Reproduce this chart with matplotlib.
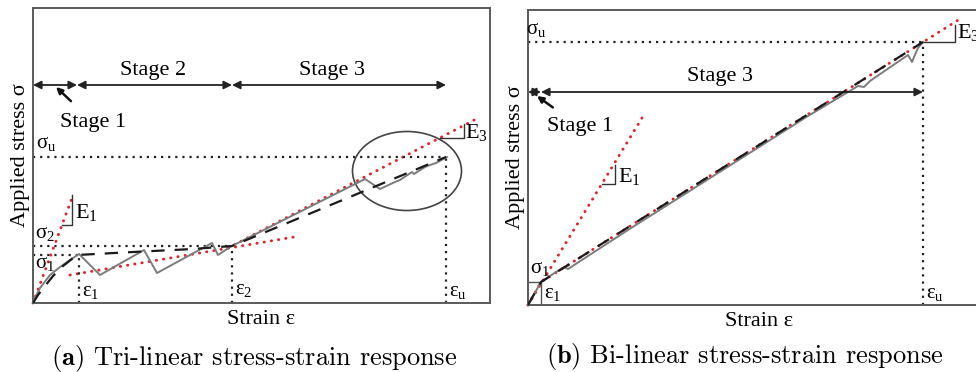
import matplotlib
matplotlib.use("Agg")
import matplotlib.pyplot as plt
from matplotlib.patches import Ellipse

plt.rcParams['font.family'] = ['Liberation Serif', 'DejaVu Serif']
plt.rcParams['mathtext.fontset'] = 'custom'
plt.rcParams['mathtext.rm'] = 'Liberation Serif'
plt.rcParams['mathtext.it'] = 'Liberation Serif:italic'
plt.rcParams['mathtext.bf'] = 'Liberation Serif:bold'

# ---------------- Panel (a): tri-linear (arbitrary strain / stress units) -------------
a_test_strain = [0, 2, 7, 17, 27, 37, 46, 67, 111, 124, 179, 185, 197, 332, 347,
                 362, 367, 379, 381, 392, 397, 403, 414]
a_test_stress = [0, 5, 15, 28, 36, 43, 49, 28, 53, 30, 60, 48, 56, 124, 114,
                 121, 123, 131, 129, 136, 138, 140, 146]
a_model_strain = [0, 5, 12, 20, 30, 44, 100, 160, 199, 413]
a_model_stress = [0, 8, 17, 27, 37, 48, 51, 54, 57, 146]
a_E1_strain = [0, 39]
a_E1_stress = [0, 105]
a_E2_strain = [37, 267]
a_E2_stress = [28, 67]
a_E3_strain = [195, 447]
a_E3_stress = [55, 186]
a_eps = {'1': 46, '2': 199, 'u': 413}
a_sig = {'1': 48, '2': 57, 'u': 146}
a_stage_bounds = [0, 44, 199, 413]
a_stage_level = 218
a_stage_names = ['Stage 2', 'Stage 3']

# ---------------- Panel (b): bi-linear ----------------
b_test_strain = [0, 13, 28, 36, 40, 100, 160, 220, 280, 330, 336, 342, 380, 384, 386, 390, 395]
b_test_stress = [0, 23, 33, 38, 36, 75, 113, 151, 189, 219, 218, 224, 250, 243, 248, 257, 263]
b_model_strain = [0, 13, 395]
b_model_stress = [0, 23, 263]
b_E1_strain = [0, 114]
b_E1_stress = [0, 187]
b_E3_strain = [0, 13, 435]
b_E3_stress = [0, 23, 288]
b_eps = {'1': 13, 'u': 395}
b_sig = {'1': 23, 'u': 263}
b_stage_bounds = [0, 13, 395]
b_stage_level = 213

W, H = 976, 372
fig = plt.figure(figsize=(W / 100, H / 100), dpi=100)

def add_ax(x0, y_top, w, h):
    ax = fig.add_axes([x0 / W, (H - y_top - h) / H, w / W, h / H])
    ax.set_xlim(0, w)
    ax.set_ylim(0, h)
    ax.set_xticks([])
    ax.set_yticks([])
    for s in ax.spines.values():
        s.set_color('#5a5a5a')
        s.set_linewidth(1.4)
    return ax

axA = add_ax(33, 8, 457, 295)
axB = add_ax(528, 10, 462, 295)

GRAY = '#7c7c7c'
RED = '#e0242a'
FS = 16
FSL = 15

def dotted(ax, xs, ys):
    ax.plot(xs, ys, color='#222222', lw=1.6, ls=(0, (1, 2.2)), clip_on=False)

def red(ax, xs, ys):
    ax.plot(xs, ys, color=RED, lw=2.1, ls=(0, (0.1, 2.4)), dash_capstyle='round', clip_on=False)

def slope_tri(ax, x0, y0, x1, y1):
    ax.plot([x0, x1, x1], [y0, y0, y1], color='#333333', lw=1.0, clip_on=False)

def arrow(ax, x0, x1, y, style):
    ax.annotate('', xy=(x1, y), xytext=(x0, y),
                arrowprops=dict(arrowstyle=style, color='#222222', lw=1.3,
                                shrinkA=0, shrinkB=0, mutation_scale=12))

# ---- Panel a drawing ----
ax = axA
ax.plot(a_test_strain, a_test_stress, color=GRAY, lw=1.4, zorder=3)
ax.plot(a_model_strain, a_model_stress, color='#1a1a1a', lw=1.6, ls=(0, (6, 4.5)), zorder=4)
red(ax, a_E1_strain, a_E1_stress)
red(ax, a_E2_strain, a_E2_stress)
red(ax, a_E3_strain, a_E3_stress)
for k in ['1', '2', 'u']:
    dotted(ax, [0, a_eps[k]], [a_sig[k], a_sig[k]])
    dotted(ax, [a_eps[k], a_eps[k]], [0, a_sig[k]])
slope_tri(ax, 29, 78, 39, 108)
slope_tri(ax, 407, 165, 431, 179)
ax.add_patch(Ellipse((374, 132), 109, 79, fill=False, ec='#444444', lw=1.2))
for i in range(3):
    arrow(ax, a_stage_bounds[i], a_stage_bounds[i + 1], a_stage_level, '<|-|>')
ax.text(120, 232, a_stage_names[0], fontsize=FS, ha='center', va='center')
ax.text(299, 232, a_stage_names[1], fontsize=FS, ha='center', va='center')
ax.annotate('Stage 1', xy=(23, 216), xytext=(60, 181), fontsize=FS, ha='center', va='center',
            arrowprops=dict(arrowstyle='-|>', color='#111111', lw=1.8, shrinkA=9, shrinkB=0,
                            mutation_scale=9))
ax.text(3, 150, r'$\mathrm{σ_u}$', fontsize=FSL, ha='left', va='bottom')
ax.text(2, 60, r'$\mathrm{σ_2}$', fontsize=FSL, ha='left', va='bottom')
ax.text(2, 30, r'$\mathrm{σ_1}$', fontsize=FSL, ha='left', va='bottom')
ax.text(49, 2, r'$\mathrm{ε_1}$', fontsize=FSL, ha='left', va='bottom')
ax.text(202, 4, r'$\mathrm{ε_2}$', fontsize=FSL, ha='left', va='bottom')
ax.text(416, 2, r'$\mathrm{ε_u}$', fontsize=FSL, ha='left', va='bottom')
ax.text(42, 80, r'$\mathrm{E_1}$', fontsize=FS, ha='left', va='bottom')
ax.text(432, 160, r'$\mathrm{E_3}$', fontsize=FS, ha='left', va='bottom')

# ---- Panel b drawing ----
ax = axB
red(ax, b_E1_strain, b_E1_stress)
ax.plot(b_test_strain, b_test_stress, color=GRAY, lw=1.4, zorder=3)
ax.plot(b_model_strain, b_model_stress, color='#1a1a1a', lw=1.6, ls=(0, (6, 4.5)), zorder=4)
red(ax, b_E3_strain, b_E3_stress)
ax.plot([0, b_eps['1'], b_eps['1']], [b_sig['1'], b_sig['1'], 0], color='#555555', lw=1.0)
dotted(ax, [0, b_eps['u']], [b_sig['u'], b_sig['u']])
dotted(ax, [b_eps['u'], b_eps['u']], [0, b_sig['u']])
slope_tri(ax, 74, 121, 87, 140)
slope_tri(ax, 395, 263, 427, 280)
arrow(ax, b_stage_bounds[0], b_stage_bounds[1], b_stage_level, '<|-|>')
arrow(ax, b_stage_bounds[1], b_stage_bounds[2], b_stage_level, '<|-|>')
ax.text(192, 228, 'Stage 3', fontsize=FS, ha='center', va='center')
ax.annotate('Stage 1', xy=(9, 209), xytext=(52, 178), fontsize=FS, ha='center', va='center',
            arrowprops=dict(arrowstyle='-|>', color='#111111', lw=1.8, shrinkA=9, shrinkB=0,
                            mutation_scale=9))
ax.text(-2, 266, r'$\mathrm{σ_u}$', fontsize=FSL, ha='left', va='bottom')
ax.text(2, 27, r'$\mathrm{σ_1}$', fontsize=FSL, ha='left', va='bottom')
ax.text(16, 2, r'$\mathrm{ε_1}$', fontsize=FSL, ha='left', va='bottom')
ax.text(398, 2, r'$\mathrm{ε_u}$', fontsize=FSL, ha='left', va='bottom')
ax.text(90, 118, r'$\mathrm{E_1}$', fontsize=FS, ha='left', va='bottom')
ax.text(429, 262, r'$\mathrm{E_3}$', fontsize=FS, ha='left', va='bottom')

# axis labels
for axx in [axA, axB]:
    axx.set_ylabel('Applied stress σ', fontsize=FS, labelpad=2)
    axx.set_xlabel('Strain ε', fontsize=FS, labelpad=5)

fig.text(254 / W, 1 - 358 / H, r'$\mathbf{(a)}$ Tri-linear stress-strain response',
         family='cmr10', math_fontfamily='cm', fontsize=19, ha='center', va='center')
fig.text(745 / W, 1 - 357 / H, r'$\mathbf{(b)}$ Bi-linear stress-strain response',
         family='cmr10', math_fontfamily='cm', fontsize=19, ha='center', va='center')

fig.savefig('out.png', dpi=100)
